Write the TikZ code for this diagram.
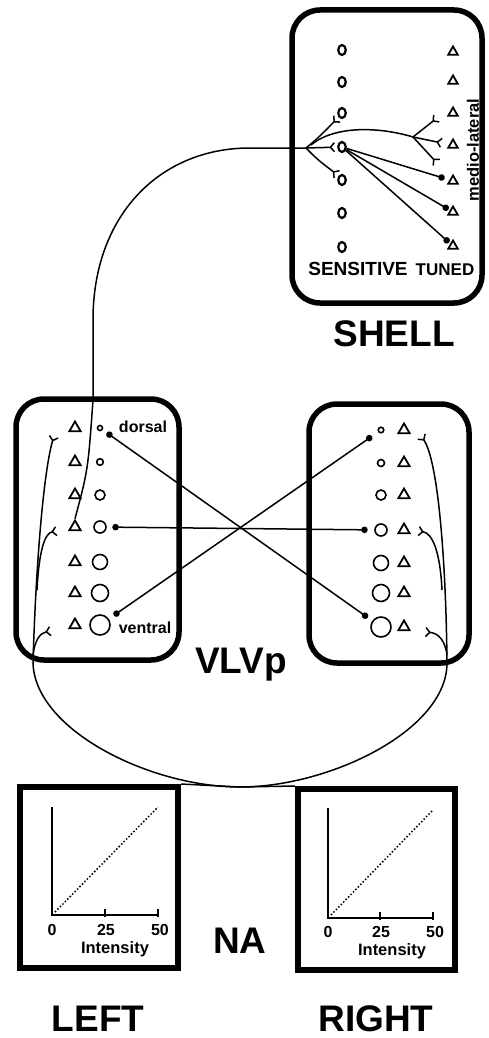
\documentclass[tikz,border=0pt]{standalone}
\usepackage{fontspec}
\setmainfont{Liberation Sans}
\usetikzlibrary{shapes.geometric,arrows.meta}
\begin{document}
\begin{tikzpicture}[x=1pt,y=-1pt,
  box/.style={draw, line width=5.5pt, rounded corners=28pt, inner sep=0pt},
  nabox/.style={draw, line width=6pt, inner sep=0pt},
  oc/.style={ellipse, draw, line width=2.2pt, inner sep=0pt, minimum width=7.5pt, minimum height=10pt},
  tri/.style={regular polygon, regular polygon sides=3, draw, line width=1.8pt, inner sep=0pt, minimum size=#1},
  cc/.style={circle, draw, line width=1.6pt, inner sep=0pt, minimum size=#1pt},
  fiber/.style={line width=1.5pt},
  syn/.style={-{Straight Barb[reversed,length=4pt,width=9pt]}},
  enddot/.style={-{Circle[length=6.5pt,width=6.5pt]}},
  twodots/.style={{Circle[length=6.5pt,width=6.5pt]}-{Circle[length=6.5pt,width=6.5pt]}},
  big/.style={font=\fontsize{37}{40}\selectfont\bfseries, anchor=base, inner sep=0pt},
  lab/.style={font=\fontsize{#1}{#1}\selectfont\bfseries, anchor=base, inner sep=0pt},
  axis/.style={line width=1.6pt},
  diag/.style={line width=1.5pt, dash pattern=on 1.5pt off 2pt}
]
\useasboundingbox (0,0) rectangle (488,1038);

% ---------- boxes ----------
\node[box, minimum width=190pt, minimum height=293pt] (shellbox) at (387,156.5) {};
\node[box, minimum width=163pt, minimum height=261pt] (vl) at (97.5,529.5) {};
\node[box, minimum width=160pt, minimum height=259pt] (vr) at (389,533.5) {};
\node[nabox, minimum width=158pt, minimum height=181pt] (nal) at (99,877.5) {};
\node[nabox, minimum width=157pt, minimum height=181pt] (nar) at (376.5,879.5) {};

% ---------- SHELL cells ----------
\foreach \i/\y in {1/50,2/82,3/113,4/147,5/180,6/213,7/247}
  \node[oc] (sc\i) at (342,\y) {};
\foreach \i/\y in {1/52,2/81,3/113,4/145,5/181,6/212,7/246}
  \node[tri=11pt] (st\i) at (453,\y) {};

\node[lab=19] (sens) at (358,275) {SENSITIVE};
\node[lab=17] (tuned) at (445,275) {TUNED};
\node[lab=16.5, rotate=90, anchor=center] (ml) at (473,150) {medio-lateral};

% ---------- VLVp cells ----------
\foreach \i/\y/\s in {1/428/5,2/462/6.6,3/495/10,4/527/12,5/562/15,6/593/17,7/625/20}{
  \node[tri=13pt] (lt\i) at (75,\y) {};
  \node[cc=\s] (lc\i) at (100,\y) {};
}
\foreach \i/\y/\s in {1/430/5.5,2/463/7,3/495/10,4/530/12,5/563/15,6/593/17,7/627/20}{
  \node[cc=\s] (rc\i) at (381,\y) {};
  \node[tri=13pt] (rt\i) at (404,\y) {};
}
\node[lab=16] (dors) at (143,432) {dorsal};
\node[lab=16] (vent) at (145,633) {ventral};

% ---------- cross connections ----------
\draw[fiber, twodots, shorten <=5pt, shorten >=5.5pt] (lc1) -- (rc7);
\draw[fiber, twodots, shorten <=5.5pt, shorten >=6.5pt] (lc4) -- (rc4);
\draw[fiber, twodots, shorten <=6pt, shorten >=7.5pt] (lc7) -- (rc1);

% ---------- projection to SHELL ----------
\coordinate (sb) at (306,148);
\coordinate (tb) at (413,137);
\draw[fiber] (lt4.north) .. controls (88,470) .. (93,400) -- (93,320)
  .. controls (93,215) and (160,148) .. (250,148) -- (sb);
\draw[fiber, syn, shorten >=1.5pt] (sb) .. controls (318,138) .. (sc3.south west);
\draw[fiber, syn, shorten >=2pt] (sb) -- (sc4);
\draw[fiber, syn, shorten >=1.5pt] (sb) .. controls (318,160) .. (sc5.north west);
\draw[fiber] (311,145) .. controls (335,125) and (380,127) .. (tb);
\draw[fiber, syn] (tb) -- (437,118);
\draw[fiber, syn] (tb) -- (442,143);
\draw[fiber, syn] (tb) -- (437,163);
\draw[fiber, enddot, shorten >=5pt] (sc4) -- (st5);
\draw[fiber, enddot, shorten >=1.5pt] (sc4) -- (st6);
\draw[fiber, enddot, shorten >=1.5pt] (sc4) -- (st7);

% ---------- NA to VLVp (crossed) ----------
\draw[fiber, syn] (nar.north west) -- (240,787) .. controls (150,787) and (35,730) .. (33,663)
  .. controls (36,560) and (44,470) .. (54,436);
\draw[fiber, syn] (37,590) .. controls (39,550) and (45,533) .. (57,531);
\draw[fiber, syn] (33,655) .. controls (35,640) and (40,633) .. (51,631);

\draw[fiber, syn] (nal.north east) -- (240,787) .. controls (330,787) and (447,730) .. (447,663)
  .. controls (446,560) and (438,460) .. (421,436);
\draw[fiber, syn] (442,590) .. controls (440,550) and (432,533) .. (418,531);
\draw[fiber, syn] (447,655) .. controls (445,640) and (438,633) .. (425,632);

% ---------- NA plots ----------
\draw[axis] (52,807) -- (52,915) -- (158,915);
\draw[axis] (105,909) -- (105,917) (158,909) -- (158,917);
\draw[diag] (55,912) -- (158,807);
\node[lab=16] (l0) at (52,935) {0};
\node[lab=16] (l25) at (106,935) {25};
\node[lab=16] (l50) at (160,935) {50};
\node[lab=16.5] (lint) at (115,953) {Intensity};

\draw[axis] (328,808) -- (328,918) -- (433,918);
\draw[axis] (380,912) -- (380,920) (433,912) -- (433,920);
\draw[diag] (331,915) -- (432,811);
\node[lab=16] (r0) at (328,937) {0};
\node[lab=16] (r25) at (381,937) {25};
\node[lab=16] (r50) at (435,937) {50};
\node[lab=16.5] (rint) at (392,955) {Intensity};

% ---------- big labels ----------
\node[big] (shell) at (394,346) {SHELL};
\node[big] (vlvp) at (241,673) {VLVp};
\node[big] (na) at (240,953) {NA};
\node[big] (left) at (98,1031) {LEFT};
\node[big] (right) at (376,1031) {RIGHT};
\end{tikzpicture}
\end{document}
